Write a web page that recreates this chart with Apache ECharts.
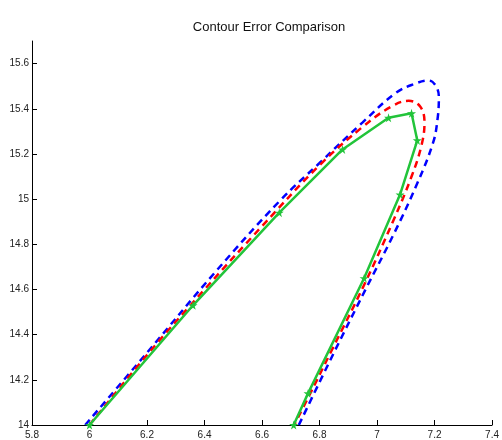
<!DOCTYPE html>
<html>
<head>
<meta charset="utf-8">
<script src="https://cdn.jsdelivr.net/npm/echarts@6/dist/echarts.min.js"></script>
<style>
html, body { margin: 0; padding: 0; background: #fff; }
#contour_chart { width: 502px; height: 440px; }
</style>
</head>
<body>
<div id="contour_chart"></div>
<script>
// 轮廓误差对比图 - data
var xTicks = [5.8, 6, 6.2, 6.4, 6.6, 6.8, 7, 7.2, 7.4];
var yTicks = [14, 14.2, 14.4, 14.6, 14.8, 15, 15.2, 15.4, 15.6];

// green solid line with star markers
var greenPts = [[6.0, 14.0], [6.36, 14.53], [6.66, 14.94], [6.88, 15.22], [7.04, 15.36],
    [7.12, 15.38], [7.14, 15.26], [7.08, 15.02], [6.955, 14.65], [6.76, 14.14], [6.71, 14.0]];

// red dashed contour
var redPts = [[6.0, 14.0], [6.2, 14.31], [6.4, 14.60], [6.6, 14.88], [6.8, 15.15], [6.95, 15.32],
    [7.05, 15.41], [7.11, 15.435], [7.15, 15.41], [7.165, 15.34], [7.155, 15.24], [7.12, 15.1],
    [7.055, 14.9], [6.955, 14.62], [6.842, 14.33], [6.76, 14.12], [6.712, 14.0]];

// blue dashed contour
var bluePts = [[5.985, 14.0], [6.2, 14.32], [6.436, 14.675], [6.66, 14.99], [6.8, 15.16], [6.95, 15.34],
    [7.065, 15.47], [7.13, 15.51], [7.18, 15.525], [7.205, 15.5], [7.215, 15.45], [7.21, 15.35],
    [7.195, 15.25], [7.14, 15.07], [7.06, 14.85], [6.96, 14.6], [6.85, 14.32], [6.728, 14.0]];

function contour_echart(){
    var myChart = echarts.init(document.getElementById('contour_chart'));

    var labelFont = {
        color: '#222',
        fontSize: 10,
        fontFamily: '"Liberation Sans", Arial, sans-serif'
    };

    var option = {
        animation: false,
        title: {
            text: 'Contour Error Comparison',
            left: 264,
            top: 16,
            textAlign: 'center',
            textStyle: {
                color: '#111',
                fontSize: 13,
                fontWeight: 'normal',
                fontFamily: '"Liberation Sans", Arial, sans-serif'
            }
        },
        grid: { left: 32, right: 5, top: 41, bottom: 14, containLabel: false },
        xAxis: {
            type: 'value',
            min: 5.8,
            max: 7.4,
            axisLine: { lineStyle: { color: '#000', width: 1 } },
            axisTick: { inside: true, length: 5, customValues: xTicks, lineStyle: { color: '#000' } },
            axisLabel: Object.assign({
                margin: 5,
                customValues: xTicks,
                formatter: function (v) { return String(+v.toFixed(1)); }
            }, labelFont),
            splitLine: { show: false }
        },
        yAxis: {
            type: 'value',
            min: 14,
            max: 15.7,
            axisLine: { show: true, lineStyle: { color: '#000', width: 1 } },
            axisTick: { show: true, inside: true, length: 5, customValues: yTicks, lineStyle: { color: '#000' } },
            axisLabel: Object.assign({
                margin: 3,
                customValues: yTicks,
                formatter: function (v) { return String(+v.toFixed(1)); }
            }, labelFont),
            splitLine: { show: false }
        },
        series: [
            {
                name: 'blue',
                type: 'line',
                data: bluePts,
                smooth: 0.4,
                showSymbol: false,
                lineStyle: { color: '#0000ff', width: 2.5, type: [7, 5] }
            },
            {
                name: 'red',
                type: 'line',
                data: redPts,
                smooth: 0.4,
                showSymbol: false,
                lineStyle: { color: '#ff0000', width: 2.5, type: [7, 5] }
            },
            {
                name: 'green',
                type: 'line',
                data: greenPts,
                symbol: 'path://M50,0 L61,35 L98,35 L68,57 L79,91 L50,70 L21,91 L32,57 L2,35 L39,35 Z',
                symbolSize: 9,
                showAllSymbol: true,
                itemStyle: { color: '#22c43a' },
                lineStyle: { color: '#22c43a', width: 2.5 }
            }
        ]
    };

    myChart.setOption(option);
}

contour_echart();
</script>
</body>
</html>
